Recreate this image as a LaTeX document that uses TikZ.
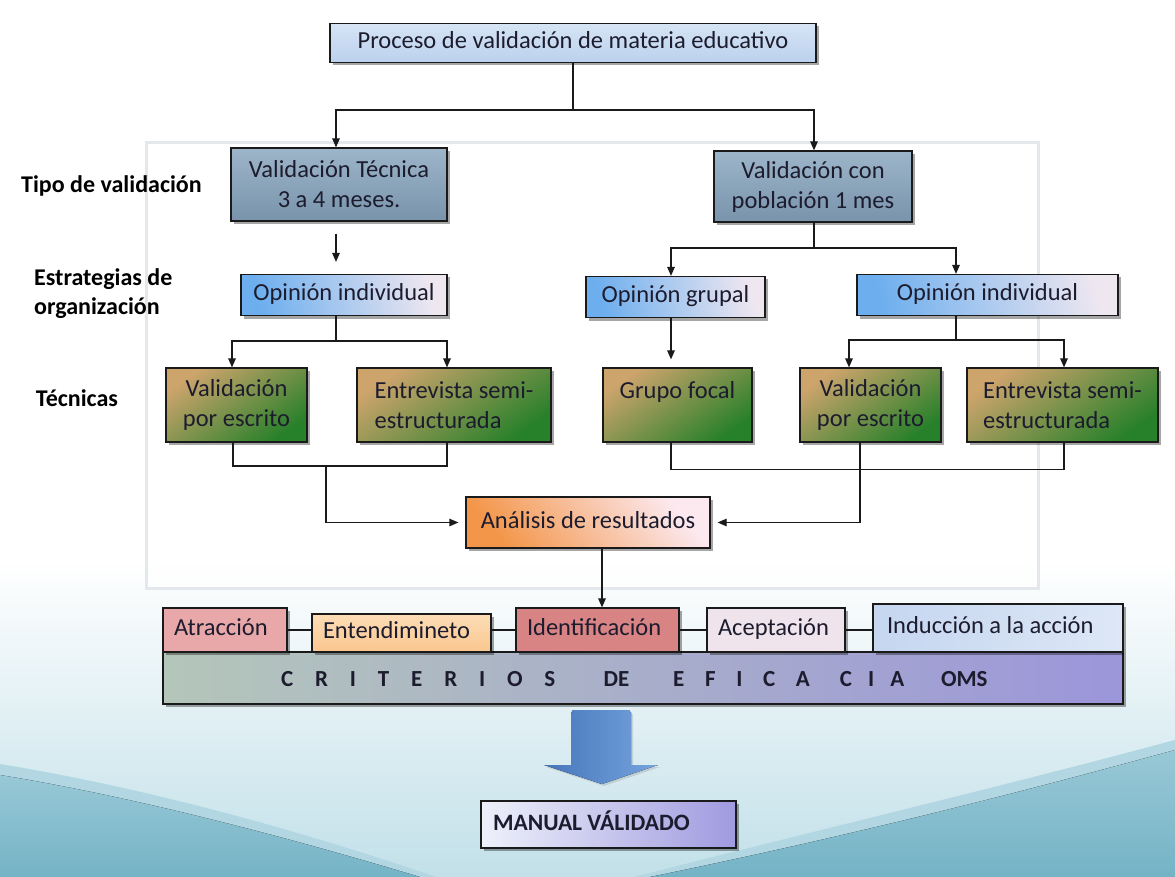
\documentclass[tikz,border=0pt]{standalone}
\usepackage{fontspec}
\setmainfont{Carlito}
\usetikzlibrary{arrows.meta,shadows,calc}

\definecolor{bgbot}{HTML}{C2E0E9}
\definecolor{edgec}{HTML}{B2D7E2}
\definecolor{tealB}{HTML}{98C8D6}
\definecolor{tealC}{HTML}{74B3C6}
\definecolor{framec}{HTML}{E2E8EB}
\definecolor{linec}{HTML}{1A1A1A}
\definecolor{txt}{HTML}{1C1C2E}
\definecolor{topA}{HTML}{D6E4F5}
\definecolor{topB}{HTML}{BBD1EE}
\definecolor{tecA}{HTML}{9DB5C9}
\definecolor{tecB}{HTML}{7893AB}
\definecolor{opA}{HTML}{6CAEEE}
\definecolor{opB}{HTML}{EFE7F0}
\definecolor{grA}{HTML}{CDA46C}
\definecolor{grM}{HTML}{5CAA3C}
\definecolor{grB}{HTML}{27802A}
\definecolor{anA}{HTML}{F3964A}
\definecolor{anB}{HTML}{FCE9F0}
\definecolor{atr}{HTML}{E8A7A9}
\definecolor{entA}{HTML}{FDDDB6}
\definecolor{entB}{HTML}{FAC68F}
\definecolor{idf}{HTML}{D88384}
\definecolor{acp}{HTML}{EFE4EC}
\definecolor{indA}{HTML}{C5D6F0}
\definecolor{indB}{HTML}{DDE7F6}
\definecolor{critA}{HTML}{B4C6BA}
\definecolor{critM}{HTML}{DCE3FA}
\definecolor{critB}{HTML}{9C96DA}
\definecolor{arrA}{HTML}{4676BB}
\definecolor{arrB}{HTML}{76A4DE}
\definecolor{manA}{HTML}{EEF1FA}
\definecolor{manB}{HTML}{A09ADF}

\newcommand\lsp[1]{\hspace{#1em}}

\begin{document}
\begin{tikzpicture}[x=1pt,y=-1pt,
  font=\fontsize{24.5}{30}\selectfont,
  ln/.style={line width=1.2pt, draw=linec},
  arr/.style={ln, -{Triangle[length=9pt,width=7.5pt]}},
  shd/.style={drop shadow={shadow xshift=2.5pt,shadow yshift=-3pt,opacity=0.35,fill=black}},
  box/.style={draw=linec, line width=1.2pt, inner sep=0pt, text=txt, shd, align=center},
  onel/.style={text height=17pt, text depth=6pt},
  lbl/.style={font=\fontsize{24}{30}\selectfont\bfseries, text=black, inner sep=0pt},
  tecbox/.style={box, top color=tecA, bottom color=tecB},
  opbox/.style={box, onel, left color=opA, right color=opB, shading angle=105},
  grbox/.style={box, minimum height=74pt, left color=grA, middle color=grM, right color=grB, shading angle=35},
  critbox/.style={box, onel, align=flush left, inner xsep=11pt}
]
\useasboundingbox (0,0) rectangle (1175,877);

% page background with the soft teal waves at the bottom
\fill[white] (0,0) rectangle (1175,877);
\fill[top color=white, bottom color=bgbot] (0,560) rectangle (1175,877);
\fill[edgec] (0,764) .. controls (140,787) and (290,827) .. (436,877) -- (0,877) -- cycle;
\fill[edgec] (634,877) .. controls (830,827) and (1000,787) .. (1175,740) -- (1175,877) -- cycle;
\fill[top color=tealB, bottom color=tealC] (0,775) .. controls (140,798) and (290,838) .. (420,877) -- (0,877) -- cycle;
\fill[top color=tealB, bottom color=tealC] (650,877) .. controls (840,838) and (1000,798) .. (1175,750) -- (1175,877) -- cycle;

% light panel behind the validation tree
\draw[draw=framec, line width=3pt, fill=white, fill opacity=0.6] (146,143) rectangle (1038,588);

% row labels
\node[lbl, anchor=base west] (ltipo) at (21,193) {Tipo de validación};
\node[lbl, anchor=base west] (lestr) at (34,286) {Estrategias de};
\node[lbl, anchor=base west] (lorg) at (34,315) {organización};
\node[lbl, anchor=base] (ltec) at (77,406) {Técnicas};

% boxes
\node[box, onel, minimum width=486pt, minimum height=39pt, top color=topA, bottom color=topB] (top) at (573,43) {Proceso de validación de materia educativo};

\node[tecbox, minimum width=216pt, minimum height=73pt] (tec) at (339,184.5) {Validación Técnica\\3 a 4 meses.};
\node[tecbox, minimum width=198pt, minimum height=71pt] (pob) at (813,186.5) {Validación con\\población 1 mes};

\node[opbox, minimum width=206pt, minimum height=41pt] (opL) at (344,295) {Opinión individual};
\node[opbox, minimum width=179pt, minimum height=41pt] (opG) at (675.5,297) {Opinión grupal};
\node[opbox, minimum width=261pt, minimum height=41pt] (opR) at (987.5,295) {Opinión individual};

\node[grbox, minimum width=141pt] (g1) at (236.5,405) {Validación\\por escrito};
\node[grbox, minimum width=194pt, align=flush left] (g2) at (454,405) {Entrevista semi-\\estructurada};
\node[grbox, minimum width=149pt, align=flush left] (g3) at (677.5,405) {Grupo focal\\\mbox{}};
\node[grbox, minimum width=141pt] (g4) at (870.5,405) {Validación\\por escrito};
\node[grbox, minimum width=191pt, align=flush left] (g5) at (1062.5,405) {Entrevista semi-\\estructurada};

\node[box, onel, minimum width=244pt, minimum height=51pt, left color=anA, right color=anB, shading angle=130] (an) at (588,522.5) {Análisis de resultados};

% WHO efficacy criteria
\node[box, minimum width=960pt, minimum height=52pt, left color=critA, middle color=critM, right color=critB] (crit) at (643,678) {};
\node[anchor=base west, inner sep=0pt, text=txt, font=\fontsize{23}{28}\selectfont\bfseries] (critxt) at (281,686) {C\lsp{.95}R\lsp{.95}I\lsp{.95}T\lsp{.95}E\lsp{.95}R\lsp{.95}I\lsp{.95}O\lsp{.95}S\lsp{2.1}DE\lsp{1.9}E\lsp{.9}F\lsp{.9}I\lsp{.9}C\lsp{.9}A\lsp{1.3}C\lsp{.7}I\lsp{.7}A\lsp{1.6}OMS};

\node[critbox, minimum height=44pt, text width=102pt, fill=atr] (c1) at (225,630) {Atracción};
\node[critbox, minimum height=38pt, text width=157pt, top color=entA, bottom color=entB] (c2) at (401.5,633) {Entendimineto};
\node[critbox, minimum height=44pt, text width=141pt, fill=idf] (c3) at (597.5,630) {Identificación};
\node[critbox, minimum height=44pt, text width=116pt, fill=acp] (c4) at (776,630) {Aceptación};
\node[critbox, minimum height=48pt, text width=222pt, inner xsep=14pt, left color=indA, right color=indB] (c5) at (998,628) {Inducción a la acción};

% result
\node[box, onel, minimum width=255pt, minimum height=47pt, align=flush left, inner xsep=12pt, text width=231pt, left color=manA, right color=manB, font=\fontsize{23.5}{29}\selectfont\bfseries] (man) at (608.5,824.5) {MANUAL VÁLIDADO};

% big block arrow towards the result
\fill[left color=arrA, right color=arrB, drop shadow={shadow xshift=2pt,shadow yshift=-2pt,opacity=0.25}]
  (571,713) -- (573,710) -- (629,710) -- (631,713) -- (631,765) -- (658,765) -- (602,784) -- (544,765) -- (571,765) -- cycle;

% connectors
\coordinate (j1) at (573,110);
\draw[ln] (top.south) -- (j1);
\draw[arr] (j1) -| ([xshift=-3pt]tec.north);
\draw[arr] (j1) -| ([xshift=1pt]pob.north);

\draw[arr] ($(tec.south)+(-3,12)$) -- ($(tec.south |- opL.north)+(-3,-12)$);

\coordinate (j2) at (814,248);
\draw[ln] ([xshift=1pt]pob.south) -- (j2);
\draw[arr] (j2) -| ([xshift=-4.5pt]opG.north);
\draw[arr] (j2) -| ([xshift=-31.5pt]opR.north);

\coordinate (j3) at (336,341);
\draw[ln] ([xshift=-8pt]opL.south) -- (j3);
\draw[arr] (j3) -| ([xshift=-4.5pt]g1.north);
\draw[arr] (j3) -| ([xshift=-7pt]g2.north);

\draw[arr] ([xshift=-4.5pt]opG.south) -- ($([xshift=-4.5pt]opG.south |- g3.north)+(0,-8)$);

\coordinate (j4) at (956,340);
\draw[ln] ([xshift=-31.5pt]opR.south) -- (j4);
\draw[arr] (j4) -| ([xshift=-21.5pt]g4.north);
\draw[arr] (j4) -| ([xshift=1.5pt]g5.north);

\coordinate (j5) at (326,466);
\draw[ln] ([xshift=-3.5pt]g1.south) |- (j5) -| ([xshift=-7pt]g2.south);
\draw[arr] (j5) |- ([xshift=-7pt]an.west);

\draw[ln] ([xshift=-6.5pt]g3.south) |- ($(g3.south)+(0,27)$) -| ([xshift=1.5pt]g5.south);
\draw[arr] ([xshift=-10.5pt]g4.south) |- ([xshift=7pt]an.east);

\draw[arr] ([xshift=14pt]an.south) -- ([xshift=14pt]an.south |- c3.north);

\draw[ln] (c1.east) -- (c1.east -| c2.west);
\draw[ln] (c2.east |- c1.east) -- (c3.west |- c1.east);
\draw[ln] (c3.east) -- (c4.west);
\draw[ln] (c4.east) -- (c4.east -| c5.west);
\end{tikzpicture}
\end{document}
